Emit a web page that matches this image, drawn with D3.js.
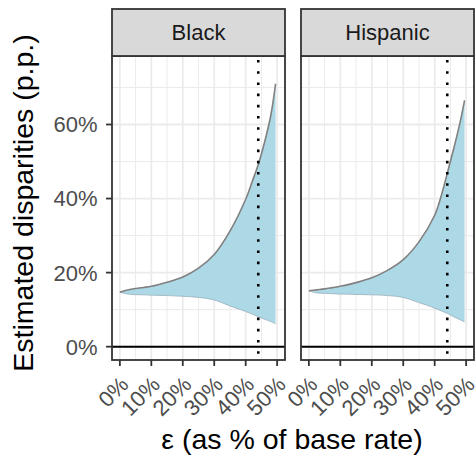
<!DOCTYPE html>
<html>
<head>
<meta charset="utf-8">
<script src="https://cdn.jsdelivr.net/npm/d3@7"></script>
<style>
  html, body { margin: 0; padding: 0; background: #fff; }
  svg { display: block; font-family: "Liberation Sans", Arial, Helvetica, sans-serif; }
</style>
</head>
<body>
<svg id="chart" width="475" height="457"></svg>
<script>
// ---- data ----
const facets = ["Black", "Hispanic"];
const eps = [0, 0.025, 0.05, 0.075, 0.1, 0.15, 0.2, 0.25, 0.3, 0.35, 0.4, 0.42, 0.44, 0.46, 0.48, 0.495];
const blackUpper = [0.147, 0.153, 0.157, 0.160, 0.163, 0.174, 0.188, 0.212, 0.249, 0.312, 0.398, 0.444, 0.492, 0.552, 0.625, 0.710];
const blackLower = [0.147, 0.142, 0.1405, 0.140, 0.139, 0.138, 0.136, 0.133, 0.126, 0.110, 0.095, 0.088, 0.081, 0.074, 0.068, 0.062];
const hispUpper  = [0.151, 0.1535, 0.156, 0.1595, 0.163, 0.173, 0.186, 0.206, 0.235, 0.283, 0.355, 0.405, 0.468, 0.533, 0.603, 0.665];
const hispLower  = [0.151, 0.145, 0.144, 0.143, 0.142, 0.141, 0.140, 0.138, 0.133, 0.119, 0.104, 0.097, 0.090, 0.081, 0.073, 0.067];
const refEps = [0.44, 0.44];
const xTicks = [0, 0.1, 0.2, 0.3, 0.4, 0.5];
const xMinor = [0.05, 0.15, 0.25, 0.35, 0.45];
const yTicks = [0, 0.2, 0.4, 0.6];
const yMinor = [0.1, 0.3, 0.5, 0.7];

const series = [
  {name: facets[0], upper: blackUpper, lower: blackLower, ref: refEps[0]},
  {name: facets[1], upper: hispUpper, lower: hispLower, ref: refEps[1]}
];

// ---- layout ----
const svg = d3.select("#chart");
const panelLefts = [112, 301];
const panelW = 173;
const stripTop = 9, panelTop = 56, panelBottom = 360;

const y = d3.scaleLinear().domain([-0.036, 0.785]).range([panelBottom, panelTop]);
const pct = d3.format(".0%");
const curve = d3.curveCatmullRom.alpha(0.5);

series.forEach((s, i) => {
  const x0 = panelLefts[i];
  const x = d3.scaleLinear().domain([-0.025, 0.525]).range([x0, x0 + panelW]);
  const g = svg.append("g");

  g.append("rect").attr("x", x0).attr("y", panelTop).attr("width", panelW)
    .attr("height", panelBottom - panelTop).attr("fill", "#fff");

  // grid
  g.selectAll(".ymin").data(yMinor).enter().append("line")
    .attr("x1", x0).attr("x2", x0 + panelW).attr("y1", d => y(d)).attr("y2", d => y(d))
    .attr("stroke", "#EBEBEB").attr("stroke-width", 1);
  g.selectAll(".xmin").data(xMinor).enter().append("line")
    .attr("y1", panelTop).attr("y2", panelBottom).attr("x1", d => x(d)).attr("x2", d => x(d))
    .attr("stroke", "#EBEBEB").attr("stroke-width", 1);
  g.selectAll(".ymaj").data(yTicks).enter().append("line")
    .attr("x1", x0).attr("x2", x0 + panelW).attr("y1", d => y(d)).attr("y2", d => y(d))
    .attr("stroke", "#EBEBEB").attr("stroke-width", 1.8);
  g.selectAll(".xmaj").data(xTicks).enter().append("line")
    .attr("y1", panelTop).attr("y2", panelBottom).attr("x1", d => x(d)).attr("x2", d => x(d))
    .attr("stroke", "#EBEBEB").attr("stroke-width", 1.8);

  const pts = eps.map((e, k) => ({e, lo: s.lower[k], hi: s.upper[k]}));

  // ribbon
  g.append("path").datum(pts)
    .attr("d", d3.area().x(d => x(d.e)).y0(d => y(d.lo)).y1(d => y(d.hi)).curve(curve))
    .attr("fill", "#ADD8E6");
  g.append("path").datum(pts)
    .attr("d", d3.line().x(d => x(d.e)).y(d => y(d.lo)).curve(curve))
    .attr("fill", "none").attr("stroke", "#8FA9B3").attr("stroke-width", 0.7);
  g.append("path").datum(pts)
    .attr("d", d3.line().x(d => x(d.e)).y(d => y(d.hi)).curve(curve))
    .attr("fill", "none").attr("stroke", "#808080").attr("stroke-width", 1.6);

  // zero line
  g.append("line").attr("x1", x0).attr("x2", x0 + panelW)
    .attr("y1", y(0)).attr("y2", y(0)).attr("stroke", "#000").attr("stroke-width", 2);

  // dotted reference
  g.append("line").attr("x1", x(s.ref)).attr("x2", x(s.ref))
    .attr("y1", panelTop).attr("y2", panelBottom)
    .attr("stroke", "#000").attr("stroke-width", 2.6).attr("stroke-dasharray", "2.6 8.6")
    .attr("stroke-dashoffset", -4);

  // panel border
  g.append("rect").attr("x", x0).attr("y", panelTop).attr("width", panelW)
    .attr("height", panelBottom - panelTop).attr("fill", "none")
    .attr("stroke", "#333").attr("stroke-width", 1.8);

  // strip
  g.append("rect").attr("x", x0).attr("y", stripTop).attr("width", panelW)
    .attr("height", panelTop - stripTop).attr("fill", "#D9D9D9")
    .attr("stroke", "#333").attr("stroke-width", 1.8);
  g.append("text").attr("x", x0 + panelW / 2).attr("y", 40)
    .attr("text-anchor", "middle").attr("font-size", 22).attr("fill", "#1A1A1A")
    .text(s.name);

  // x axis ticks + labels
  g.selectAll(".xt").data(xTicks).enter().append("line")
    .attr("x1", d => x(d)).attr("x2", d => x(d)).attr("y1", panelBottom).attr("y2", panelBottom + 6)
    .attr("stroke", "#333").attr("stroke-width", 1.8);
  g.selectAll(".xl").data(xTicks).enter().append("text")
    .attr("transform", d => `translate(${x(d) + 10},386) rotate(-45)`)
    .attr("text-anchor", "end").attr("font-size", 22).attr("fill", "#4D4D4D")
    .text(d => pct(d));

  if (i === 0) {
    g.selectAll(".yt").data(yTicks).enter().append("line")
      .attr("x1", x0 - 6).attr("x2", x0).attr("y1", d => y(d)).attr("y2", d => y(d))
      .attr("stroke", "#333").attr("stroke-width", 1.8);
    g.selectAll(".yl").data(yTicks).enter().append("text")
      .attr("x", 97.5).attr("y", d => y(d)).attr("dy", "0.36em")
      .attr("text-anchor", "end").attr("font-size", 22).attr("fill", "#4D4D4D")
      .text(d => pct(d));
  }
});

// axis titles
svg.append("text").attr("x", 292).attr("y", 449).attr("text-anchor", "middle")
  .attr("font-size", 28.5).attr("fill", "#000").text("ε (as % of base rate)");
svg.append("text").attr("transform", "translate(33,203) rotate(-90)").attr("text-anchor", "middle")
  .attr("font-size", 28.5).attr("fill", "#000").text("Estimated disparities (p.p.)");
</script>
</body>
</html>
